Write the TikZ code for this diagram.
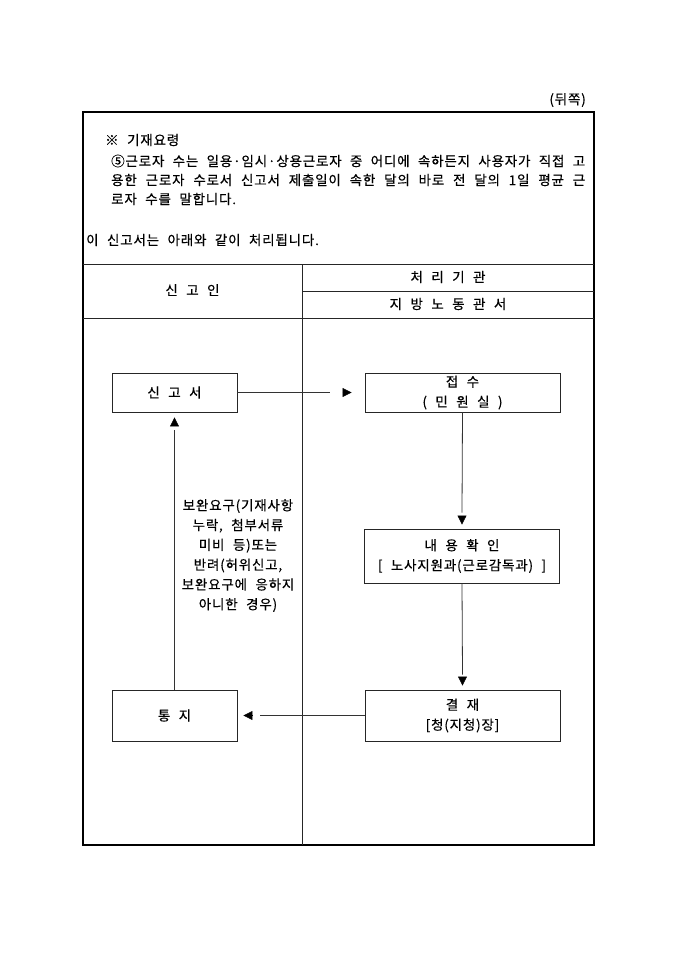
\documentclass[tikz,border=0pt]{standalone}
\usepackage{fontspec}
\setmainfont{Noto Sans CJK KR}[WordSpace=2.2, LetterSpace=6, FakeBold=0.4]
\usepackage{xcolor}
\usetikzlibrary{arrows.meta}
\usetikzlibrary{positioning}
\usetikzlibrary{calc}

\tikzset{
  frame/.style={draw=black, line width=1.8pt},
  rule/.style={draw=black!85, line width=0.9pt},
  procbox/.style={draw=black!85, line width=0.9pt, fill=white, inner sep=0pt, align=center, font=\fontsize{13.5}{20}\selectfont},
  link/.style={draw=black!80, line width=0.8pt},
  arrtip/.style={draw=black, line width=0.6pt, -{Triangle[length=9pt,width=9pt]}},
  txt/.style={inner sep=0pt, font=\fontsize{13.5}{19}\selectfont}
}

\begin{document}
\begin{tikzpicture}[x=1pt,y=-1pt]
\useasboundingbox[fill=white] (0,0) rectangle (680,962);

\coordinate (tl) at (83,112);
\coordinate (br) at (594,845);
\coordinate (h1) at (83,264);
\coordinate (h2) at (302,291);
\coordinate (h3) at (83,318);
\coordinate (col) at (302,264);
\coordinate (colb) at (302,845);

\coordinate (s1) at (174.5,392.5);
\coordinate (s2) at (462.5,392.5);
\coordinate (s3) at (462,556);
\coordinate (s4) at (462.5,715.5);
\coordinate (s5) at (174.5,715.5);

  \node[txt, anchor=east] (back) at (586,100) {(뒤쪽)};
  \node[txt, anchor=west] (guide) at (105,140) {※ 기재요령};
  \node[txt, anchor=north west, text width=474pt, align=justify] (note) at (111,154.5)
    {⑤근로자 수는 일용·임시·상용근로자 중 어디에 속하든지 사용자가 직접 고\linebreak
     용한 근로자 수로서 신고서 제출일이 속한 달의 바로 전 달의 1일 평균 근\linebreak
     로자 수를 말합니다.};
  \node[txt, anchor=west] (proc) at (86,240) {이 신고서는 아래와 같이 처리됩니다.};

  \draw[frame] (tl) rectangle (br);
  \draw[rule] (h1) -- (h1 -| br);
  \draw[rule] (h2) -- (h2 -| br);
  \draw[rule] (h3) -- (h3 -| br);
  \draw[rule] (col) -- (colb);

  \node[txt] (who) at (192.5,290) {신 고 인};
  \node[txt] (org) at (448,277) {처 리 기 관};
  \node[txt] (office) at (448,304) {지 방 노 동 관 서};

  \node[procbox, minimum width=125pt, minimum height=39pt] (singo) at (s1) {신 고 서};
  \node[procbox, minimum width=195pt, minimum height=39pt] (jeopsu) at (s2) {접 수\\( 민 원 실 )};
  \node[procbox, minimum width=195pt, minimum height=54pt] (naeyong) at (s3) {내 용 확 인\\{[} 노사지원과(근로감독과) {]}};
  \node[procbox, minimum width=195pt, minimum height=51pt] (gyeoljae) at (s4) {결 재\\{[}청(지청)장{]}};
  \node[procbox, minimum width=125pt, minimum height=51pt] (tongji) at (s5) {통 지};

  \draw[link] (singo.east) -- ([xshift=-35]jeopsu.west);
  \draw[arrtip] ([xshift=-22]jeopsu.west) -- ([xshift=-13]jeopsu.west);
  \draw[link] (jeopsu.south) -- ([yshift=16]naeyong.north);
  \draw[arrtip] ([yshift=12]naeyong.north) -- ([yshift=4]naeyong.north);
  \draw[link] (naeyong.south) -- ([yshift=15]gyeoljae.north);
  \draw[arrtip] ([yshift=12]gyeoljae.north) -- ([yshift=4]gyeoljae.north);
  \draw[link] (gyeoljae.west) -- ([xshift=23]tongji.east);
  \draw[arrtip] ([xshift=15]tongji.east) -- ([xshift=6]tongji.east);
  \draw[link] (tongji.north) -- ([yshift=-18]singo.south);
  \draw[arrtip] ([yshift=-13]singo.south) -- ([yshift=-5]singo.south);

  \node[txt, align=center, font=\fontsize{13.5}{19.8}\selectfont] (reason) at (238,555.5)
    {보완요구(기재사항\\누락, 첨부서류\\미비 등)또는\\반려(허위신고,\\보완요구에 응하지\\아니한 경우)};
\end{tikzpicture}
\end{document}
